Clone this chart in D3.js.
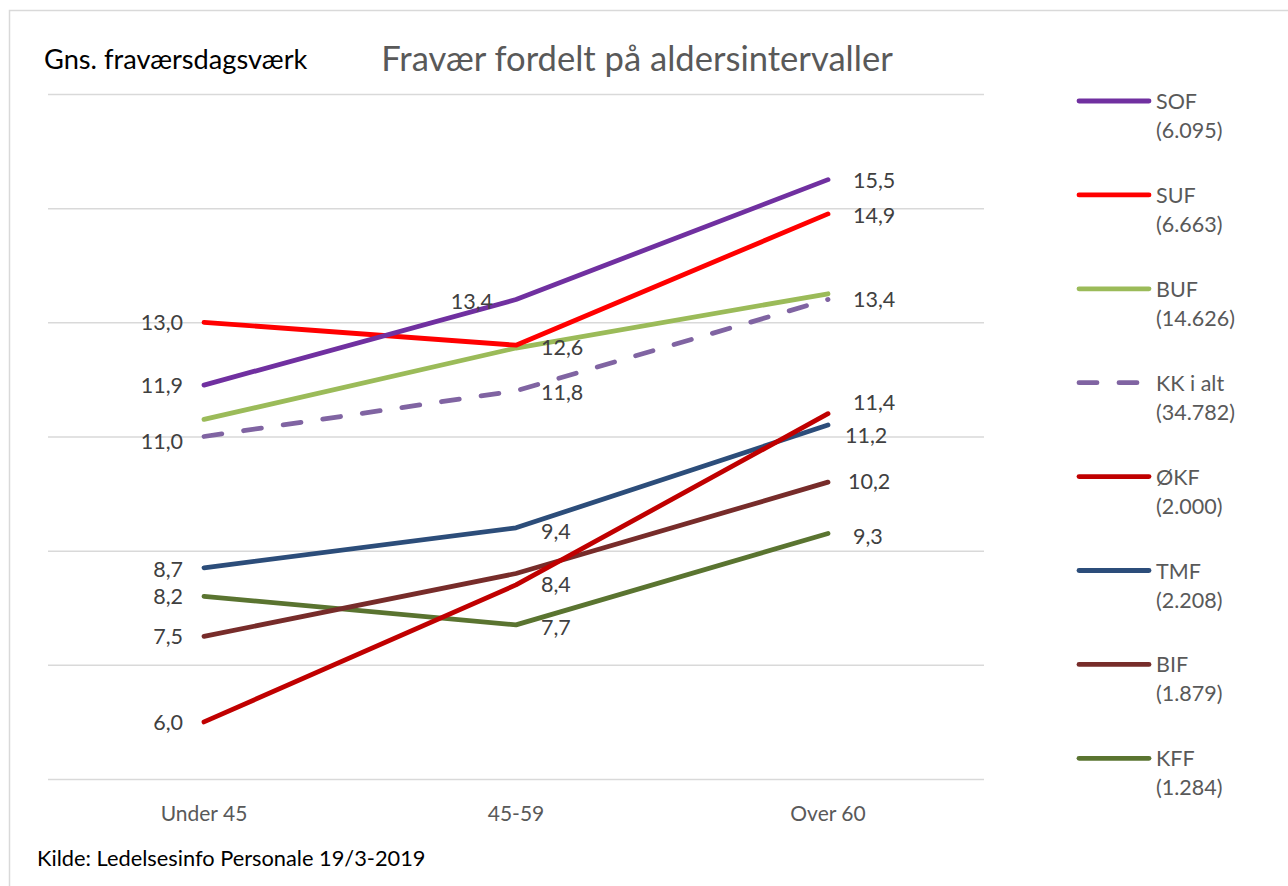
<!DOCTYPE html>
<html>
<head>
<meta charset="utf-8">
<script src="https://d3js.org/d3.v7.min.js"></script>
<style>
  body { margin: 0; background: #fff; }
  svg text { font-family: Lato, "Open Sans", sans-serif; }
  .grid line { stroke: #d9d9d9; stroke-width: 1.5; }
  .grid path { display: none; }
  .grid text { display: none; }
</style>
</head>
<body>
<svg width="1288" height="886"></svg>
<script>
var categories = ["Under 45", "45-59", "Over 60"];
var seriesNames = ["SOF", "SUF", "BUF", "KK i alt", "ØKF", "TMF", "BIF", "KFF"];
var seriesCounts = ["(6.095)", "(6.663)", "(14.626)", "(34.782)", "(2.000)", "(2.208)", "(1.879)", "(1.284)"];
var sofValues = [11.9, 13.4, 15.5];
var sufValues = [13.0, 12.6, 14.9];
var bufValues = [11.3, 12.55, 13.5];
var kkValues = [11.0, 11.8, 13.4];
var okfValues = [6.0, 8.4, 11.4];
var tmfValues = [8.7, 9.4, 11.2];
var bifValues = [7.5, 8.6, 10.2];
var kffValues = [8.2, 7.7, 9.3];
var yTicks = [5, 7, 9, 11, 13, 15, 17];

var colors = ["#7030A0", "#FF0000", "#9BBB59", "#8064A2", "#C00000", "#2C4D7A", "#772C2A", "#5A7430"];
var allValues = [sofValues, sufValues, bufValues, kkValues, okfValues, tmfValues, bifValues, kffValues];

// which data labels are shown: [series index, category index, dx, dy, anchor]
var labelPlacement = [
  [1, 0, -21, 0, "end"], [0, 0, -21, 0, "end"], [3, 0, -21, 4, "end"],
  [5, 0, -21, 1, "end"], [7, 0, -21, 0, "end"], [6, 0, -21, 0, "end"], [4, 0, -21, 0, "end"],
  [0, 1, -23, 1, "end"], [1, 1, 25, 2, "start"], [3, 1, 25, 1, "start"],
  [5, 1, 25, 3, "start"], [4, 1, 25, -1, "start"], [7, 1, 25, 2, "start"],
  [0, 2, 25, 0, "start"], [1, 2, 25, 1, "start"], [3, 2, 25, -1, "start"],
  [4, 2, 25, -12, "start"], [5, 2, 17, 10, "start"], [6, 2, 20, -1, "start"], [7, 2, 25, 2, "start"]
];

var svg = d3.select("svg");

// chart frame
svg.append("rect")
  .attr("x", 9.5).attr("y", 10.5)
  .attr("width", 1300).attr("height", 900)
  .attr("fill", "none").attr("stroke", "#d9d9d9").attr("stroke-width", 1.5);

var x = d3.scalePoint().domain(categories).range([48, 984]).padding(0.5);
var y = d3.scaleLinear().domain([5, 17]).range([779, 94]);

svg.append("g")
  .attr("class", "grid")
  .attr("transform", "translate(48,0)")
  .call(d3.axisLeft(y).tickValues(yTicks).tickSize(-936).tickFormat(""));

svg.append("text")
  .attr("x", 637).attr("y", 57)
  .attr("text-anchor", "middle").attr("dominant-baseline", "central")
  .attr("fill", "#595959").style("font-size", "34.6px")
  .text("Fravær fordelt på aldersintervaller");

svg.append("text")
  .attr("x", 44).attr("y", 58)
  .attr("dominant-baseline", "central")
  .attr("fill", "#000").style("font-size", "27.2px")
  .text("Gns. fraværsdagsværk");

svg.append("g").selectAll("text")
  .data(categories)
  .join("text")
  .attr("x", function(d) { return x(d); })
  .attr("y", 812)
  .attr("text-anchor", "middle").attr("dominant-baseline", "central")
  .attr("fill", "#595959").style("font-size", "21px")
  .text(function(d) { return d; });

svg.append("text")
  .attr("x", 37).attr("y", 857)
  .attr("dominant-baseline", "central")
  .attr("fill", "#000").style("font-size", "21.8px")
  .text("Kilde: Ledelsesinfo Personale 19/3-2019");

var line = d3.line()
  .x(function(d, i) { return x(categories[i]); })
  .y(function(d) { return y(d); });

// draw back-to-front so SOF ends on top
var order = [7, 6, 5, 4, 3, 2, 1, 0];
svg.append("g").selectAll("path")
  .data(order)
  .join("path")
  .attr("d", function(s) { return line(allValues[s]); })
  .attr("fill", "none")
  .attr("stroke", function(s) { return colors[s]; })
  .attr("stroke-width", 4.8)
  .attr("stroke-linecap", "round")
  .attr("stroke-linejoin", "round")
  .attr("stroke-dasharray", function(s) { return s === 3 ? "18,22" : null; });

var fmt = function(v) { return d3.format(".1f")(v).replace(".", ","); };

svg.append("g").selectAll("text")
  .data(labelPlacement)
  .join("text")
  .attr("x", function(d) { return x(categories[d[1]]) + d[2]; })
  .attr("y", function(d) { return y(allValues[d[0]][d[1]]) + d[3]; })
  .attr("text-anchor", function(d) { return d[4]; })
  .attr("dominant-baseline", "central")
  .attr("fill", "#404040").style("font-size", "21.5px")
  .text(function(d) {
    var v = allValues[d[0]][d[1]];
    if (d[0] === 3 && d[1] === 2) v = 13.4;
    return fmt(v);
  });

// legend
var legend = svg.append("g").selectAll("g")
  .data(seriesNames)
  .join("g")
  .attr("transform", function(d, i) { return "translate(1079," + (101 + i * 93.9) + ")"; });

legend.append("line")
  .attr("x1", 0).attr("x2", 70)
  .attr("stroke", function(d, i) { return colors[i]; })
  .attr("stroke-width", 4.8)
  .attr("stroke-linecap", "round")
  .attr("stroke-dasharray", function(d, i) { return i === 3 ? "18,22" : null; });

legend.append("text")
  .attr("x", 77).attr("y", 0)
  .attr("dominant-baseline", "central")
  .attr("fill", "#595959").style("font-size", "21.5px")
  .text(function(d) { return d; });

legend.append("text")
  .attr("x", 77).attr("y", 29)
  .attr("dominant-baseline", "central")
  .attr("fill", "#595959").style("font-size", "21.5px")
  .text(function(d, i) { return seriesCounts[i]; });
</script>
</body>
</html>
